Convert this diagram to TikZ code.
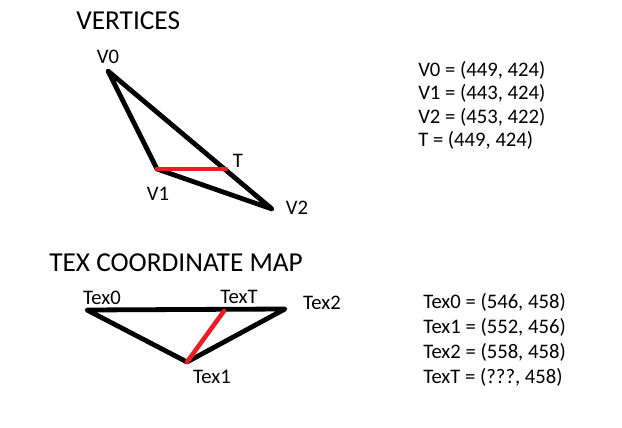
\documentclass[tikz,border=0pt]{standalone}
\usepackage{fontspec}
\setmainfont{Carlito}
\definecolor{paintred}{HTML}{ED1C24}
\begin{document}
\begin{tikzpicture}[x=0.75pt,y=-0.75pt,
  edge/.style={line width=3.6pt,line cap=round,line join=round,black},
  rededge/.style={line width=3.4pt,line cap=round,paintred},
  lbl/.style={inner sep=0pt,font=\fontsize{15.5}{18}\selectfont},
  ttl/.style={inner sep=0pt,anchor=west,font=\fontsize{20.5}{24}\selectfont},
  info/.style={inner sep=0pt,anchor=west,font=\fontsize{15.5}{18}\selectfont}]
\useasboundingbox[fill=white] (0,0) rectangle (622,428);
% top triangle
\coordinate (v0) at (108,71);
\coordinate (v1) at (157,169);
\coordinate (v2) at (272,209);
\coordinate (t) at (226,169);
\draw[edge] (v0) -- (v1) -- (v2) -- cycle;
\draw[rededge] (v1) -- (t);
\node[ttl] (title1) at (76,21) {VERTICES};
\node[lbl] (lv0) at (108,57) {V0};
\node[lbl] (lv1) at (158,194) {V1};
\node[lbl] (lv2) at (297,208) {V2};
\node[lbl] (lt) at (238,161) {T};
\node[info] (i1) at (418,70) {V0 = (449, 424)};
\node[info] (i2) at (418,93.5) {V1 = (443, 424)};
\node[info] (i3) at (418,117) {V2 = (453, 422)};
\node[info] (i4) at (418,140.5) {T = (449, 424)};
% bottom triangle
\coordinate (t0) at (87,310);
\coordinate (t1) at (187,362);
\coordinate (t2) at (285,309);
\coordinate (tt) at (224,311);
\draw[edge] (t0) -- (t1) -- (t2) -- cycle;
\draw[rededge] (t1) -- (tt);
\node[ttl] (title2) at (49,263) {TEX COORDINATE MAP};
\node[lbl] (lt0) at (102,298) {Tex0};
\node[lbl] (ltt) at (239,297) {TexT};
\node[lbl] (lt2) at (322,303) {Tex2};
\node[lbl] (lt1) at (212,377) {Tex1};
\node[info] (j1) at (423,302) {Tex0 = (546, 458)};
\node[info] (j2) at (423,327) {Tex1 = (552, 456)};
\node[info] (j3) at (423,352) {Tex2 = (558, 458)};
\node[info] (j4) at (423,377) {TexT = (???, 458)};
\end{tikzpicture}
\end{document}
